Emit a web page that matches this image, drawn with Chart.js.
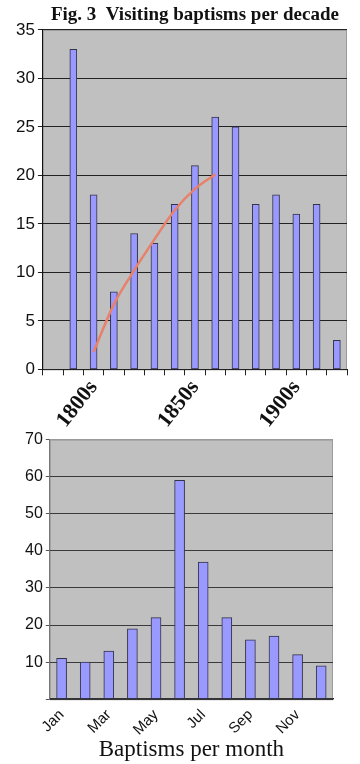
<!DOCTYPE html>
<html>
<head>
<meta charset="utf-8">
<script src="https://cdn.jsdelivr.net/npm/chart.js@4/dist/chart.umd.min.js"></script>
<style>
  html, body { margin: 0; padding: 0; background: #fff; }
  .box { position: relative; width: 360px; }
  #top { height: 433px; }
  #bottom { height: 337px; margin-top: -6px; }
</style>
</head>
<body>
<div class="box" id="top"><canvas id="decadeChart"></canvas></div>
<div class="box" id="bottom"><canvas id="monthChart"></canvas></div>
<script>
/* ---------- data ---------- */
const decades = ["1780s","1790s","1800s","1810s","1820s","1830s","1840s","1850s","1860s","1870s","1880s","1890s","1900s","1910s","1920s"]
const decadeTicks = ["1800s","1850s","1900s"]
const decadeCounts = [null,33,18,8,14,13,17,21,26,25,17,18,16,17,3]
const trendValues = [null,null,1.8,6.7,10.2,13.4,16.4,18.6,20.1,null,null,null,null,null,null]

const months = ["Jan","Feb","Mar","Apr","May","Jun","Jul","Aug","Sep","Oct","Nov","Dec"]
const monthTicks = ["Jan","Mar","May","Jul","Sep","Nov"]
const monthCounts = [11,10,13,19,22,59,37,22,16,17,12,9]

/* ---------- helpers ---------- */
const $ = (id) => document.getElementById(id)

// grey plot area like the old spreadsheet charts
const plotBg = {
  id: "plotBg",
  beforeDraw(chart) {
    const { ctx, chartArea: a } = chart
    ctx.save()
    ctx.fillStyle = "#c0c0c0"
    ctx.fillRect(a.left, a.top, a.right - a.left, a.bottom - a.top)
    ctx.strokeStyle = "#9a9a9a"
    ctx.lineWidth = 1
    ctx.strokeRect(a.left + 0.5, a.top + 0.5, a.right - a.left - 1, a.bottom - a.top)
    ctx.restore()
  }
}

const BAR_FILL = "#9999ff"
const BAR_EDGE = "#333348"
const SANS = "'Liberation Sans', Arial, sans-serif"
const SERIF = "'Liberation Serif', 'Times New Roman', serif"

/* ======================
   CHART 1: PER DECADE
====================== */
new Chart($("decadeChart"), {
  type: "bar",
  data: {
    labels: decades,
    datasets: [
      {
        type: "line",
        data: trendValues,
        borderColor: "#e8806a",
        borderWidth: 2.5,
        pointRadius: 0,
        cubicInterpolationMode: "monotone",
        spanGaps: false,
        order: 0
      },
      {
        data: decadeCounts,
        backgroundColor: BAR_FILL,
        borderColor: BAR_EDGE,
        borderWidth: 1,
        borderSkipped: false,
        barThickness: 7,
        order: 1
      }
    ]
  },
  options: {
    responsive: true,
    maintainAspectRatio: false,
    animation: false,
    layout: { padding: { left: 13, right: 13, top: 0, bottom: 0 } },
    plugins: {
      legend: { display: false },
      tooltip: { enabled: false },
      title: {
        display: true,
        fullSize: false,
        text: "Fig. 3  Visiting baptisms per decade",
        color: "#111",
        font: { family: SERIF, size: 19, weight: "bold", lineHeight: 1.15 },
        padding: { top: 4, bottom: 4 }
      }
    },
    scales: {
      x: {
        offset: true,
        grid: {
          display: true,
          offset: true,
          drawOnChartArea: false,
          drawTicks: true,
          tickLength: 6,
          color: "#222"
        },
        border: { color: "#222", width: 1 },
        ticks: {
          autoSkip: false,
          minRotation: 52,
          maxRotation: 52,
          padding: 0,
          color: "#111",
          font: { family: SERIF, size: 22, weight: "bold" },
          callback: (v, i) => decadeTicks.includes(decades[i]) ? decades[i] : ""
        }
      },
      y: {
        min: 0,
        max: 35,
        ticks: {
          stepSize: 5,
          padding: 3,
          color: "#111",
          font: { family: SANS, size: 17 }
        },
        grid: { color: "#222", tickLength: 5, tickColor: "#222" },
        border: { color: "#111", width: 1 }
      }
    }
  },
  plugins: [plotBg]
})

/* ======================
   CHART 2: PER MONTH
====================== */
new Chart($("monthChart"), {
  type: "bar",
  data: {
    labels: months,
    datasets: [{
      data: monthCounts,
      backgroundColor: BAR_FILL,
      borderColor: BAR_EDGE,
      borderWidth: 1,
      borderSkipped: false,
      barThickness: 10
    }]
  },
  options: {
    responsive: true,
    maintainAspectRatio: false,
    animation: false,
    layout: { padding: { left: 22, right: 27, top: 0, bottom: 2 } },
    plugins: {
      legend: { display: false },
      tooltip: { enabled: false }
    },
    scales: {
      x: {
        grid: { display: false },
        border: { color: "#333", width: 1.5 },
        ticks: {
          autoSkip: false,
          minRotation: 45,
          maxRotation: 45,
          padding: 0,
          color: "#111",
          font: { family: SANS, size: 15, lineHeight: 1 },
          callback: (v, i) => monthTicks.includes(months[i]) ? months[i] : ""
        },
        title: {
          display: true,
          text: "Baptisms per month",
          color: "#111",
          font: { family: SERIF, size: 23, lineHeight: 1.05 },
          padding: { top: 0, bottom: 0 }
        }
      },
      y: {
        min: 0,
        max: 70,
        ticks: {
          stepSize: 10,
          padding: 3,
          color: "#111",
          font: { family: SANS, size: 16 },
          callback: (v) => v === 0 ? "" : v
        },
        grid: {
          color: (c) => c.tick && c.tick.value === 70 ? "#9a9a9a" : "#3a3a3a",
          tickLength: 4,
          tickColor: "#555"
        },
        border: { color: "#777", width: 1 }
      }
    }
  },
  plugins: [plotBg]
})
</script>
</body>
</html>
